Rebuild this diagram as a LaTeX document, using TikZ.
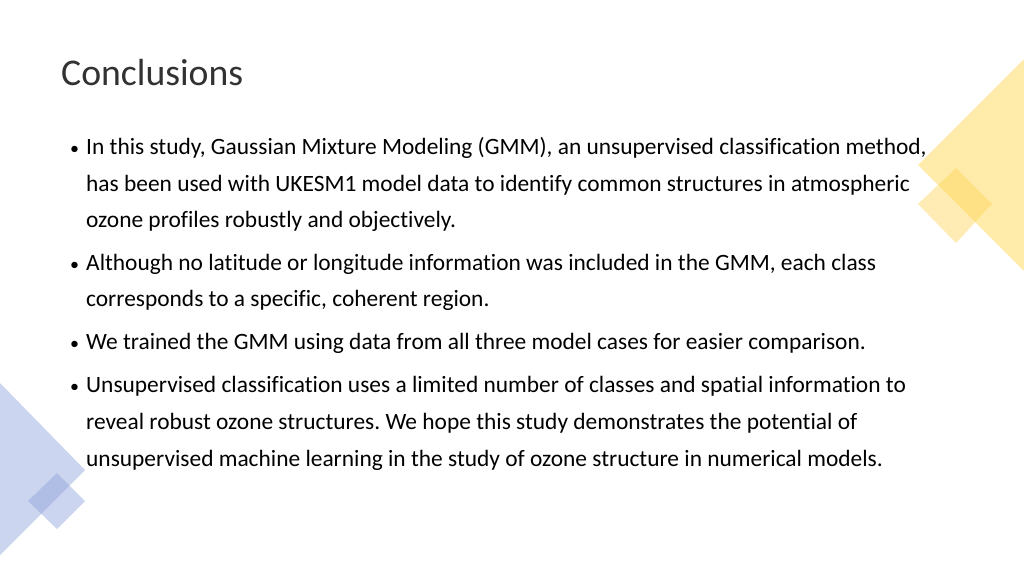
\documentclass[tikz,border=0pt]{standalone}
\usepackage{fontspec}
\setmainfont{Carlito}[Ligatures={NoCommon}]
\frenchspacing
\begin{document}
\begin{tikzpicture}[x=1pt,y=-1pt,
  ln/.style={anchor=base west,inner sep=0pt,font=\fontsize{23.4}{28}\selectfont},
  bul/.style={anchor=base west,inner sep=0pt,font=\fontsize{18}{24}\selectfont}]
\useasboundingbox (0,0) rectangle (1024,576);
\fill[white] (0,0) rectangle (1024,576);
\fill[fill={rgb,255:red,255;green,235;blue,170}] (918,165) -- (1023,60) -- (1024,60) -- (1024,271) -- cycle;
\fill[fill={rgb,255:red,255;green,214;blue,90}, opacity=0.45] (956,168) -- (992,204) -- (956,243) -- (918,204) -- cycle;
\fill[fill={rgb,255:red,143;green,163;blue,220}, opacity=0.45] (0,383) -- (85,470) -- (0,555) -- cycle;
\fill[fill={rgb,255:red,143;green,163;blue,220}, opacity=0.45] (57,473) -- (85,501) -- (57,529) -- (28,501) -- cycle;
\node[anchor=base west,inner sep=0pt,font=\fontsize{37.7}{44}\selectfont,text={rgb,255:red,50;green,50;blue,50}] (title) at (61,85) {Conclusions};
\foreach \y/\n in {154/a,270/b,349/c,392/d} \node[bul] (b\n) at (70,\y) {•};
\node[ln] (l1) at (86,154) {In this study, Gaussian Mixture Modeling (GMM), an unsupervised classification method,};
\node[ln] (l2) at (86,191) {has been used with UKESM1 model data to identify common structures in atmospheric};
\node[ln] (l3) at (86,227) {ozone profiles robustly and objectively.};
\node[ln] (l4) at (86,270) {Although no latitude or longitude information was included in the GMM, each class};
\node[ln] (l5) at (86,306) {corresponds to a specific, coherent region.};
\node[ln] (l6) at (86,349) {We trained the GMM using data from all three model cases for easier comparison.};
\node[ln] (l7) at (86,392) {Unsupervised classification uses a limited number of classes and spatial information to};
\node[ln] (l8) at (86,429) {reveal robust ozone structures. We hope this study demonstrates the potential of};
\node[ln] (l9) at (86,466) {unsupervised machine learning in the study of ozone structure in numerical models.};
\end{tikzpicture}
\end{document}
